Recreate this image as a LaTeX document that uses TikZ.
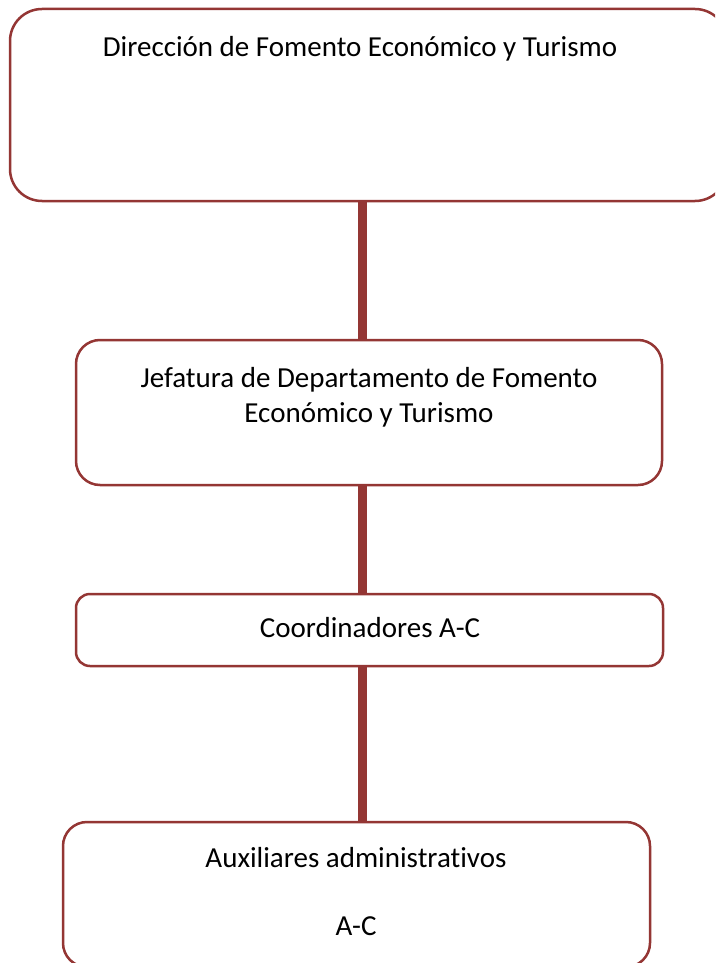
\documentclass[tikz,border=0pt]{standalone}
\usepackage{fontspec}
\setmainfont{Carlito}[Ligatures=NoCommon]
\definecolor{boxred}{RGB}{148,54,52}
\begin{document}
\begin{tikzpicture}[x=1pt,y=-1pt,
  orgbox/.style={draw=boxred, line width=2.5pt, fill=white, inner sep=0pt, outer sep=0pt, rectangle},
  conn/.style={draw=boxred, line width=8.5pt},
  lbl/.style={font=\fontsize{29}{35}\selectfont, inner sep=0pt, align=center, anchor=base}]
\useasboundingbox (0,0) rectangle (715,963);
\clip (0,0) rectangle (715,963);
\fill[white] (0,0) rectangle (715,963);
\coordinate (cx) at (362.5,0);
\node[orgbox, minimum width=717pt, minimum height=192pt, rounded corners=32pt] (b1) at (368.5,105) {};
\node[orgbox, minimum width=586pt, minimum height=145pt, rounded corners=24pt] (b2) at (369,412.5) {};
\node[orgbox, minimum width=587pt, minimum height=72pt, rounded corners=14pt] (b3) at (369.5,630) {};
\node[orgbox, minimum width=587pt, minimum height=145pt, rounded corners=24pt] (b4) at (356.5,894.5) {};
\draw[conn] (b1.south -| cx) -- (b2.north -| cx);
\draw[conn] (b2.south -| cx) -- (b3.north -| cx);
\draw[conn] (b3.south -| cx) -- (b4.north -| cx);
\node[lbl] (t1) at (360,57) {Dirección de Fomento Económico y Turismo};
\node[lbl] (t2) at (369,422) {Jefatura de Departamento de Fomento\\Económico y Turismo};
\node[lbl] (t3) at (370,637) {Coordinadores A-C};
\node[lbl] (t4) at (356,935) {Auxiliares administrativos\\[33pt]A-C};
\end{tikzpicture}
\end{document}
